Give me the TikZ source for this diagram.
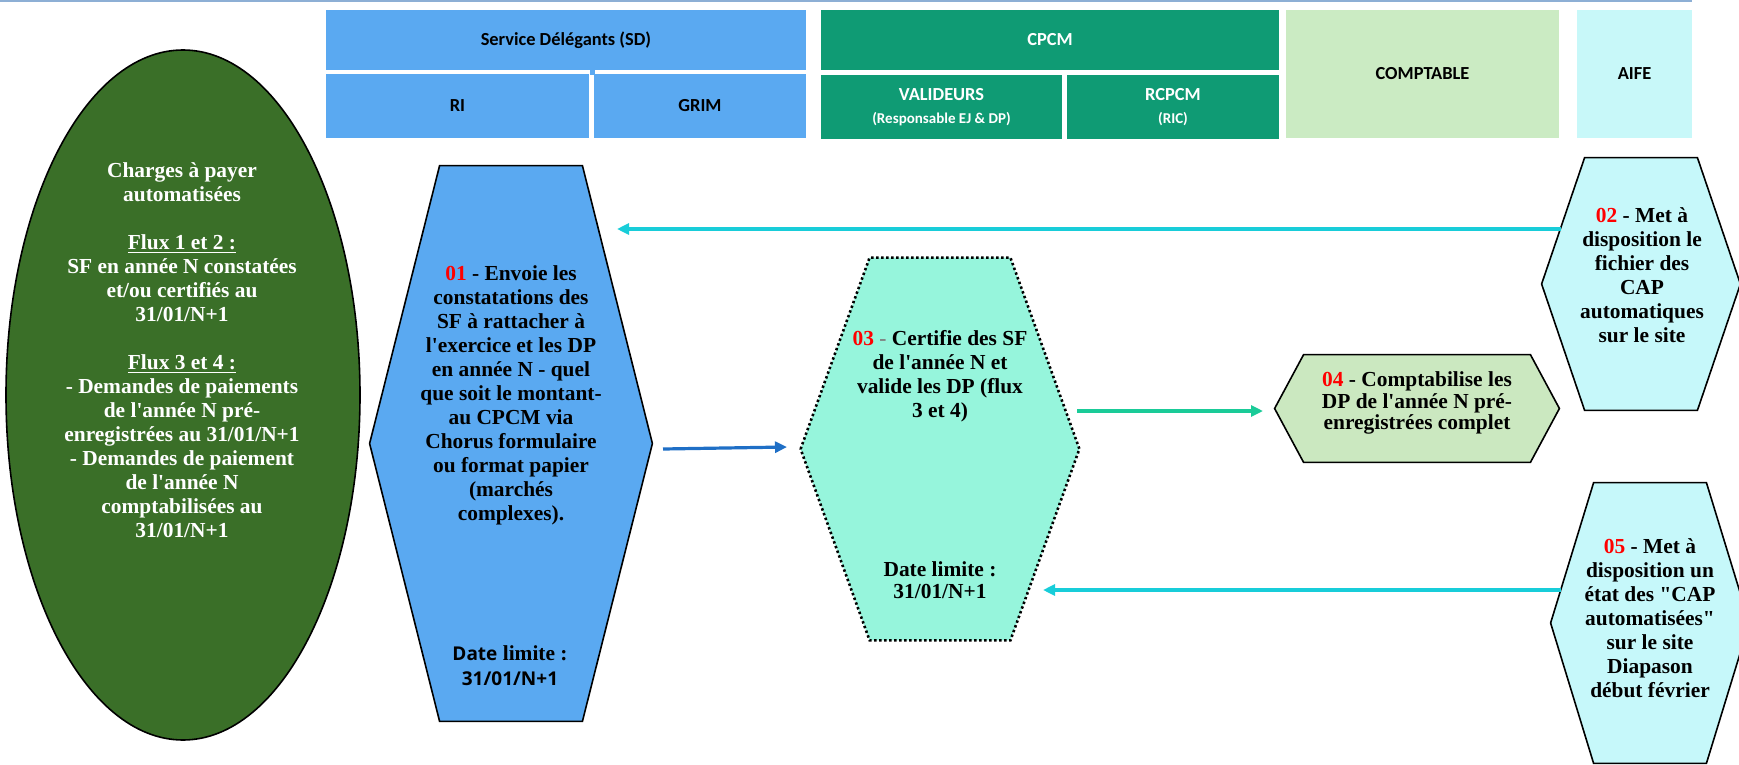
\documentclass[tikz,border=0pt]{standalone}
\usepackage{fontspec}
\setmainfont{Liberation Serif}
\newfontfamily\hdrfont{Carlito}
\newfontfamily\datefont{Open Sans}
\usetikzlibrary{shapes.geometric,arrows.meta,calc}

\definecolor{sdblue}{HTML}{5AA9F1}
\definecolor{cpcmgreen}{HTML}{0F9B74}
\definecolor{comptagreen}{HTML}{CBEBC3}
\definecolor{aifecyan}{HTML}{C8F8F9}
\definecolor{ellgreen}{HTML}{3A6F28}
\definecolor{mint}{HTML}{96F5DC}
\definecolor{paleleaf}{HTML}{CBE8C0}
\definecolor{paleaqua}{HTML}{C6F8FA}
\definecolor{flowcyan}{HTML}{18CDD9}
\definecolor{flowblue}{HTML}{1F6FC6}
\definecolor{flowgreen}{HTML}{1ACB98}
\definecolor{numred}{HTML}{FF0000}
\definecolor{rulecol}{HTML}{8DAFD5}

% straight quotes, bypassing the TeX ligature mapping
\newcommand{\sq}{\XeTeXglyph\XeTeXcharglyph"0027\relax}
\newcommand{\dq}{\XeTeXglyph\XeTeXcharglyph"0022\relax}
\newcommand{\num}[1]{\textcolor{numred}{#1}}

% hexagon outline built on the anchors of a rectangular frame node
\newcommand{\hexof}[3]{%
  \path[#3] (#1.west) -- ($(#1.north west)+(#2,0)$) -- ($(#1.north east)-(#2,0)$)
    -- (#1.east) -- ($(#1.south east)-(#2,0)$) -- ($(#1.south west)+(#2,0)$) -- cycle;}

\tikzset{
  hdrbox/.style={rectangle, inner sep=0pt, align=center,
    font=\hdrfont\bfseries\fontsize{9.2}{11}\selectfont},
  frame/.style={rectangle, inner sep=0pt, draw=none},
  hexline/.style={draw=black, line width=0.8pt, line join=miter},
  body/.style={align=center, inner sep=0pt, font=\bfseries\fontsize{10.7}{12}\selectfont},
  flow/.style={line width=1.6pt, -{Triangle[length=6pt,width=5.5pt]}},
}

\begin{document}
\begin{tikzpicture}[x=0.5pt, y=-0.5pt]
\useasboundingbox (0,0) rectangle (1739,765);

% rule along the top edge
\coordinate (ruleL) at (0,1.2);
\coordinate (ruleR) at (1692,1.2);
\draw[rulecol, line width=1.2pt] (ruleL) -- (ruleR);

% column headers
\node[hdrbox, fill=sdblue, minimum width=240pt, minimum height=30pt] (sd) at (566,40) {Service Délégants (SD)};
\node[hdrbox, fill=sdblue, minimum width=131.5pt, minimum height=32pt] (ri) at (457.5,106) {RI};
\node[hdrbox, fill=sdblue, minimum width=106pt, minimum height=32pt] (grim) at (700,106) {GRIM};
\fill[sdblue] (589.5,70) rectangle (594.5,75.5);
\node[hdrbox, fill=cpcmgreen, text=white, minimum width=229pt, minimum height=30pt] (cpcm) at (1050,40) {CPCM};
\node[hdrbox, fill=cpcmgreen, text=white, minimum width=120.5pt, minimum height=32pt] (val) at (941.5,107)
  {VALIDEURS\\[0.5pt]{\fontsize{7.5}{9}\selectfont(Responsable EJ \& DP)}};
\node[hdrbox, fill=cpcmgreen, text=white, minimum width=106pt, minimum height=32pt] (rcpcm) at (1173,107)
  {RCPCM\\[0.5pt]{\fontsize{7.5}{9}\selectfont(RIC)}};
\node[hdrbox, fill=comptagreen, minimum width=136.5pt, minimum height=64pt] (compta) at (1422.5,74) {COMPTABLE};
\node[hdrbox, fill=aifecyan, minimum width=57.5pt, minimum height=64pt] (aife) at (1634.5,74) {AIFE};

% scope ellipse
\node[ellipse, draw=black, line width=0.8pt, fill=ellgreen, inner sep=0pt,
      minimum width=177pt, minimum height=345pt] (ell) at (183,395) {};
\node[body, text=white] (elltxt) at (182,350) {Charges à payer\\automatisées\\[12pt]
  \underline{Flux 1 et 2 :}\\SF en année N constatées\\et/ou certifiés au\\31/01/N+1\\[12pt]
  \underline{Flux 3 et 4 :}\\- Demandes de paiements\\de l\sq année N pré-\\enregistrées au 31/01/N+1\\
  - Demandes de paiement\\de l\sq année N\\comptabilisées au\\31/01/N+1};

% hexagon frames
\node[frame, minimum width=141pt, minimum height=277.5pt] (h01) at (511,443.5) {};
\node[frame, minimum width=139pt, minimum height=191pt] (h03) at (940,449) {};
\node[frame, minimum width=142pt, minimum height=53.5pt] (h04) at (1417,408.5) {};
\node[frame, minimum width=99pt, minimum height=126pt] (h02) at (1641,284) {};
\node[frame, minimum width=99pt, minimum height=140pt] (h05) at (1650,623) {};

\hexof{h01}{70}{hexline, fill=sdblue}
\hexof{h03}{69}{fill=mint, draw=black, line width=1.3pt, dash pattern=on 1.2pt off 1.3pt}
\hexof{h04}{29}{hexline, fill=paleleaf}
\hexof{h02}{43}{hexline, fill=paleaqua}
\hexof{h05}{43}{hexline, fill=paleaqua}

% step texts
\node[body] (t01) at (511,395) {\num{01} - Envoie les\\constatations des\\SF à rattacher à\\l\sq exercice et les DP\\
  en année N - quel\\que soit le montant-\\au CPCM via\\Chorus formulaire\\ou format papier\\(marchés\\complexes).};
\node[body, font=\bfseries\fontsize{10.7}{12.5}\selectfont] (d01) at (510,666)
  {{\datefont\bfseries\fontsize{9.5}{12}\selectfont Date} limite :\\{\datefont\bfseries\fontsize{9.5}{12}\selectfont 31/01/N+1}};

\node[body] (t03) at (940,376) {\num{03} \textcolor{gray}{-} Certifie des SF\\de l\sq année N et\\valide les DP (flux\\3 et 4)};
\node[body, font=\bfseries\fontsize{10.7}{11}\selectfont] (d03) at (940,580) {Date limite :\\31/01/N+1};

\node[body, font=\bfseries\fontsize{10.7}{10.75}\selectfont] (t04) at (1417,403)
  {\num{04} - Comptabilise les\\DP de l\sq année N pré-\\enregistrées complet};

\node[body] (t02) at (1642,275.5) {\num{02} - Met à\\disposition le\\fichier des\\CAP\\automatiques\\sur le site};

\node[body] (t05) at (1650,618) {\num{05} - Met à\\disposition un\\état des \dq CAP\\automatisées\dq\\sur le site\\Diapason\\début février};

% flows
\coordinate (f1s) at (1561,229);
\coordinate (f1e) at (617,229);
\coordinate (f2s) at (663,449);
\coordinate (f2e) at (787,447);
\coordinate (f3s) at (1077,411);
\coordinate (f3e) at (1263,411);
\coordinate (f4s) at (1561,590);
\coordinate (f4e) at (1043,590);

\draw[flow, flowcyan] (f1s) -- (f1e);
\draw[flow, flowblue] (f2s) -- (f2e);
\draw[flow, flowgreen] (f3s) -- (f3e);
\draw[flow, flowcyan] (f4s) -- (f4e);
\end{tikzpicture}
\end{document}
